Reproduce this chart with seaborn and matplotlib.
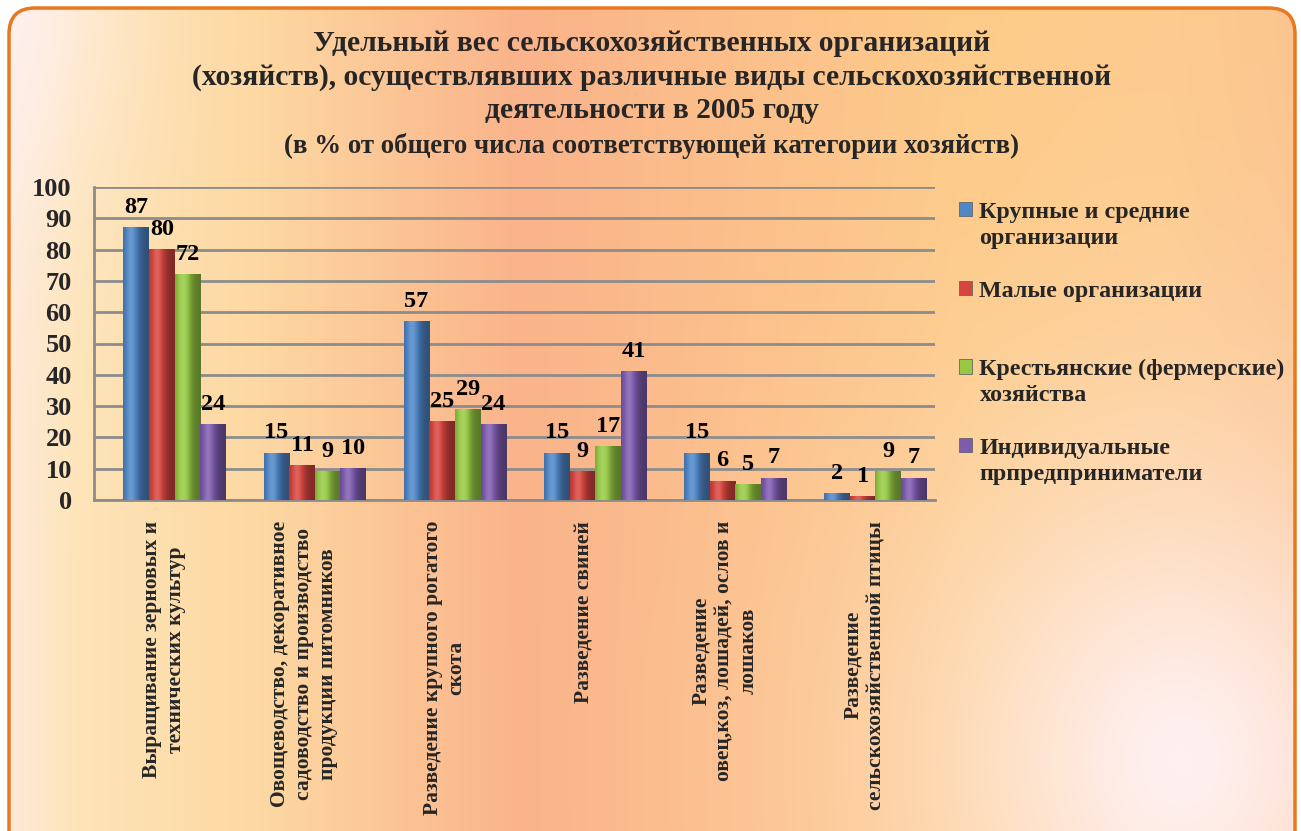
import numpy as np
import pandas as pd
import seaborn as sns
import matplotlib.pyplot as plt
from matplotlib.patches import FancyBboxPatch, Rectangle
from matplotlib.colors import to_rgb

# data
categories = [
    "Выращивание зерновых и\nтехнических культур",
    "Овощеводство, декоративное\nсадоводство и производство\nпродукции питомников",
    "Разведение крупного рогатого\nскота",
    "Разведение свиней",
    "Разведение\nовец,коз, лошадей, ослов и\nлошаков",
    "Разведение\nсельскохозяйственной птицы",
]
series = [
    "Крупные и средние организации",
    "Малые организации",
    "Крестьянские (фермерские) хозяйства",
    "Индивидуальные прпредприниматели",
]
legend_labels = [
    "Крупные и средние\nорганизации",
    "Малые организации\n",
    "Крестьянские (фермерские)\nхозяйства",
    "Индивидуальные\nпрпредприниматели",
]
large_medium = [87, 15, 57, 15, 15, 2]
small_orgs = [80, 11, 25, 9, 6, 1]
farms = [72, 9, 29, 17, 5, 9]
individual = [24, 10, 24, 41, 7, 7]
colors = ["#4F86C6", "#D6453F", "#96C844", "#7E5BAE"]

df = pd.DataFrame({
    "category": categories * 4,
    "series": np.repeat(series, len(categories)),
    "value": large_medium + small_orgs + farms + individual,
})

sns.set_theme(style="white")
plt.rcParams["font.family"] = ["Liberation Serif", "DejaVu Serif"]
plt.rcParams["font.weight"] = "bold"

W, H = 1301, 831
fig = plt.figure(figsize=(W / 100, H / 100), dpi=100, facecolor="white")

# background gradient in a rounded frame
bg = fig.add_axes([0, 0, 1, 1], zorder=-10)
bg.set_xlim(0, W)
bg.set_ylim(H, 0)
bg.axis("off")
xs = np.linspace(0, 1, W)
stops = [0.0, 0.06, 0.2, 0.40, 0.58, 0.75, 0.9, 1.0]
stop_cols = ["#FDEBDD", "#FEE4B8", "#FDD8A2", "#FAB38A", "#FCC08A", "#FDCB88", "#FDCB8E", "#FCC48E"]
rgb = np.array([to_rgb(c) for c in stop_cols])
base = np.stack([np.interp(xs, stops, rgb[:, i]) for i in range(3)], axis=-1)
img = np.repeat(base[None, :, :], H, axis=0)
X, Y = np.meshgrid(np.arange(W), np.arange(H))
pink = np.array(to_rgb("#FFF2F6"))
w1 = np.exp(-((((X - 1180) / 260) ** 2 + ((Y - 760) / 300) ** 2)) ** 0.8) * 0.95
w2 = np.exp(-(((X - 0) / 120) ** 2 + ((Y - 0) / 220) ** 2)) * 0.7
w = np.clip(w1 + w2, 0, 1)[..., None]
img = img * (1 - w) + pink * w
im = bg.imshow(img, extent=[0, W, H, 0], aspect="auto")
frame = FancyBboxPatch((9, 8), W - 15, H + 20, boxstyle="round,pad=0,rounding_size=26",
                       facecolor="none", edgecolor="#E8781E", linewidth=2.5)
bg.add_patch(frame)
im.set_clip_path(frame)

# main chart
ax = fig.add_axes([94 / W, 1 - 500 / H, (935 - 94) / W, (500 - 187) / H])
ax.set_facecolor("none")
sns.barplot(data=df, x="category", y="value", hue="series", palette=colors,
            width=0.73, saturation=1, linewidth=0, legend=False, ax=ax, zorder=3)

# the 3D bars sit a little right of the group centre
for p in ax.patches:
    p.set_x(p.get_x() + 0.075)

# cylinder-like shading on each bar
t = np.linspace(0, 1, 60)
shade = 0.72 + 0.45 * np.exp(-((t - 0.32) / 0.28) ** 2) - 0.12 * t
for p in ax.patches:
    h = p.get_height()
    if h <= 0:
        continue
    c = np.array(p.get_facecolor()[:3])
    row = np.where(shade[:, None] <= 1, c * shade[:, None],
                   c + (1 - c) * (shade[:, None] - 1) * 1.2)
    row = np.clip(row, 0, 1)
    ax.imshow(row[None, :, :], extent=[p.get_x(), p.get_x() + p.get_width(), 0, h],
              aspect="auto", zorder=3.5, interpolation="bilinear")

for cont in ax.containers:
    ax.bar_label(cont, fmt="%d", padding=7, fontsize=17.5, fontweight="bold", color="black")

ax.set_ylim(0, 100)
ax.set_xlim(-0.5, 5.5)
ax.set_aspect("auto")
ax.set_yticks(range(0, 101, 10))
ax.yaxis.grid(True, color="#8C8C8C", linewidth=2, zorder=0)
ax.set_axisbelow(True)
ax.set_xlabel("")
ax.set_ylabel("")
ax.set_xticks(range(len(categories)))
ax.set_xticklabels(categories, rotation=90, fontsize=15.5, fontweight="bold",
                   multialignment="center", va="top", linespacing=1.25)
ax.set_xticks(np.arange(-0.5, 6, 1), minor=True)
ax.tick_params(axis="x", which="major", length=0, pad=15)
ax.tick_params(axis="x", which="minor", length=6, width=1.5, color="#8C8C8C", direction="out")
ax.tick_params(axis="y", length=7, width=1.5, color="#8C8C8C", direction="out", labelsize=19, pad=9)
for lab in ax.get_yticklabels():
    lab.set_fontweight("bold")
for s in ["top", "right"]:
    ax.spines[s].set_visible(False)
for s in ["left", "bottom"]:
    ax.spines[s].set_color("#8C8C8C")
    ax.spines[s].set_linewidth(2)

handles = [Rectangle((0, 0), 1, 1, facecolor=c, edgecolor="#666666", linewidth=0.6) for c in colors]
leg = fig.legend(handles, legend_labels, loc="upper left", bbox_to_anchor=(959 / W, 1 - 202 / H),
                 frameon=False, fontsize=17.3, handlelength=0.55, handleheight=0.55,
                 handletextpad=0.3, labelspacing=1.32, borderpad=0, borderaxespad=0)
for col in leg._legend_handle_box.get_children():
    for row in col.get_children():
        row.align = "top"
for txt in leg.get_texts():
    txt.set_linespacing(1.3)

fig.text(652 / W, 1 - 77 / H,
         "Удельный вес сельскохозяйственных организаций\n"
         "(хозяйств), осуществлявших различные виды сельскохозяйственной\n"
         "деятельности в 2005 году",
         ha="center", va="center", fontsize=21.3, fontweight="bold", linespacing=1.3)
fig.text(651 / W, 1 - 146 / H, "(в % от общего числа соответствующей категории хозяйств)",
         ha="center", va="center", fontsize=19.4, fontweight="bold")

fig.savefig("out.png", dpi=100, facecolor="white")
